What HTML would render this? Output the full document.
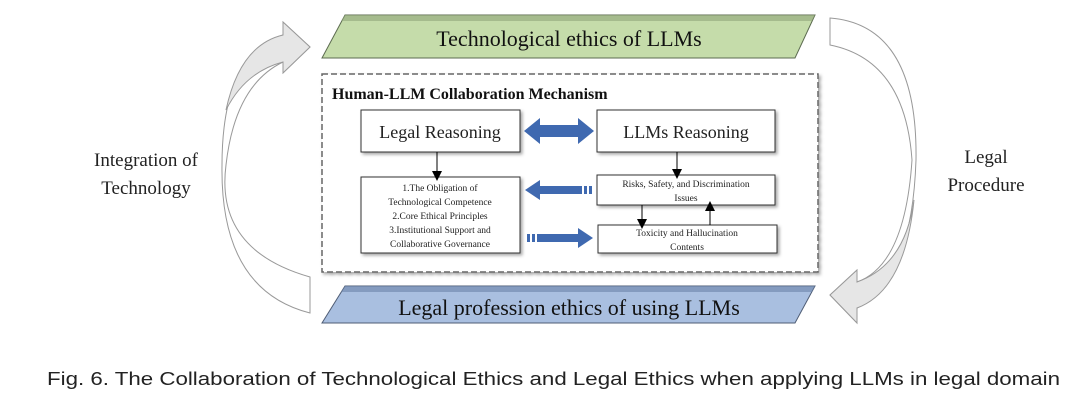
<!DOCTYPE html>
<html><head><meta charset="utf-8"><style>
html,body{margin:0;padding:0;background:#fff;}
svg{display:block;}
</style></head><body>
<svg width="1080" height="411" viewBox="0 0 1080 411" xmlns="http://www.w3.org/2000/svg">
<defs>
<filter id="sh" x="-10%" y="-10%" width="130%" height="140%"><feDropShadow dx="2" dy="2" stdDeviation="1.5" flood-color="#000" flood-opacity="0.35"/></filter>
<marker id="ah" markerWidth="10" markerHeight="10" refX="5" refY="5" orient="auto" markerUnits="userSpaceOnUse"><path d="M0,0 L10,5 L0,10 Z" fill="#000"/></marker>
</defs>
<!-- curved arrows -->
<path d="M310,277 Q215,250 226,165 Q235,85 283,62 L283,73 L310,47 L283,22 L283,35 Q222,55 222,165 Q220,290 310,313 Z" fill="#fff" stroke="#999" stroke-width="1"/>
<path d="M283,62 L283,73 L310,47 L283,22 L283,35 Q240,45 226,110 Q245,72 283,62 Z" fill="#e6e6e6" stroke="#999" stroke-width="1"/>
<path d="M830,18 Q918,25 916,160 Q912,280 857,308 L857,323 L830,295 L857,270 L857,282 Q905,265 912,160 Q905,60 830,45 Z" fill="#fff" stroke="#999" stroke-width="1"/>
<path d="M857,282 L857,270 L830,295 L857,323 L857,308 Q905,290 914,200 Q905,265 857,282 Z" fill="#e6e6e6" stroke="#999" stroke-width="1"/>
<!-- top parallelogram -->
<polygon points="345,15 815,15 795,58 322,58" fill="#c5dcaa" stroke="#5c6b50" stroke-width="1"/>
<polygon points="345,15 815,15 812,21 341,21" fill="#8fa57a" opacity="0.6"/>
<text x="569" y="46" font-family="Liberation Serif, serif" font-size="22" text-anchor="middle" fill="#111">Technological ethics of LLMs</text>
<!-- bottom parallelogram -->
<polygon points="345,286 815,286 795,323 322,323" fill="#a9bfe0" stroke="#4f5d75" stroke-width="1"/>
<polygon points="345,286 815,286 812,292 341,292" fill="#6d84a8" opacity="0.6"/>
<text x="569" y="315" font-family="Liberation Serif, serif" font-size="22" text-anchor="middle" fill="#111">Legal profession ethics of using LLMs</text>
<!-- dashed box -->
<rect x="322" y="74" width="496" height="198" fill="#fff" stroke="#666" stroke-width="1.5" stroke-dasharray="6,3" filter="url(#sh)"/>
<text x="332" y="99" font-family="Liberation Serif, serif" font-size="16" font-weight="bold" fill="#111">Human-LLM Collaboration Mechanism</text>
<!-- boxes -->
<g filter="url(#sh)" fill="#fff" stroke="#333" stroke-width="1">
<rect x="361" y="110" width="159" height="42"/>
<rect x="597" y="110" width="178" height="42"/>
<rect x="361" y="177" width="159" height="76"/>
<rect x="597" y="175" width="178" height="30"/>
<rect x="598" y="225" width="179" height="28"/>
</g>
<g font-family="Liberation Serif, serif" fill="#222" text-anchor="middle">
<text x="440" y="138" font-size="18">Legal Reasoning</text>
<text x="686" y="138" font-size="18">LLMs Reasoning</text>
<text x="440" y="191" font-size="9.5">1.The Obligation of</text>
<text x="440" y="205" font-size="9.5">Technological Competence</text>
<text x="440" y="219" font-size="9.5">2.Core Ethical Principles</text>
<text x="440" y="233" font-size="9.5">3.Institutional Support and</text>
<text x="440" y="247" font-size="9.5">Collaborative Governance</text>
<text x="686" y="187" font-size="9.5">Risks, Safety, and Discrimination</text>
<text x="686" y="201" font-size="9.5">Issues</text>
<text x="687" y="236" font-size="9.5">Toxicity and Hallucination</text>
<text x="687" y="250" font-size="9.5">Contents</text>
</g>
<!-- blue arrows -->
<polygon points="524,131 540,118 540,125 578,125 578,118 594,131 578,144 578,137 540,137 540,144" fill="#3f69b0"/>
<polygon points="525,190 540,180 540,186 582,186 582,194 540,194 540,200" fill="#3f69b0"/>
<rect x="584" y="186" width="3" height="8" fill="#3f69b0"/><rect x="589" y="186" width="3" height="8" fill="#3f69b0"/>
<rect x="527" y="234" width="3" height="8" fill="#3f69b0"/><rect x="532" y="234" width="3" height="8" fill="#3f69b0"/>
<polygon points="537,234 578,234 578,228 593,238 578,248 578,242 537,242" fill="#3f69b0"/>
<!-- black arrows -->
<g stroke="#000" stroke-width="1" fill="none">
<line x1="437" y1="152" x2="437" y2="176" marker-end="url(#ah)"/>
<line x1="677" y1="152" x2="677" y2="174" marker-end="url(#ah)"/>
<line x1="642" y1="205" x2="642" y2="224" marker-end="url(#ah)"/>
<line x1="710" y1="225" x2="710" y2="206" marker-end="url(#ah)"/>
</g>
<!-- side labels -->
<g font-family="Liberation Serif, serif" font-size="19" fill="#222" text-anchor="middle">
<text x="146" y="166">Integration of</text>
<text x="146" y="194">Technology</text>
<text x="986" y="163">Legal</text>
<text x="986" y="191">Procedure</text>
</g>
<text x="47" y="385" font-family="Liberation Sans, sans-serif" font-size="18" fill="#222" textLength="1013" lengthAdjust="spacingAndGlyphs">Fig. 6.  The Collaboration of Technological Ethics and Legal Ethics when applying LLMs in legal domain</text>
</svg>
</body></html>
